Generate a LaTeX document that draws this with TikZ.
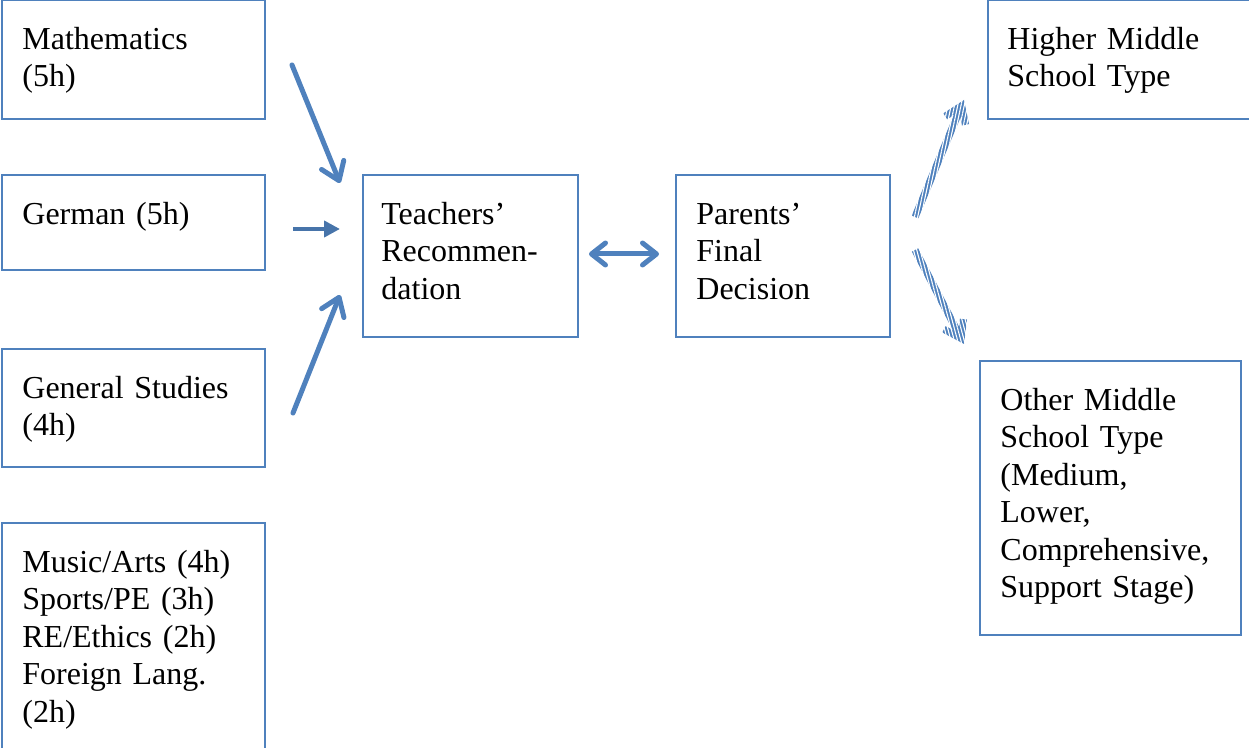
\documentclass[tikz,border=0pt]{standalone}
\usepackage{fontspec}
\setmainfont{Liberation Serif}
\usetikzlibrary{arrows.meta,calc,patterns.meta}
\definecolor{boxblue}{HTML}{4F81BD}
\definecolor{arrblue}{HTML}{4F81BD}
\begin{document}
\begin{tikzpicture}[x=0.5pt,y=-0.5pt,
  box/.style={draw=boxblue, line width=1pt, inner sep=0pt, anchor=north west},
  txt/.style={anchor=base west, inner sep=0pt, align=left, text width=125pt,
              font=\fontsize{16pt}{18.75pt}\selectfont},
  solidarrow/.style={draw=arrblue, line width=2.5pt, line cap=round,
              -{Straight Barb[length=8.5pt,width=12pt,round]}},
  smallarrow/.style={draw=arrblue!90!black, line width=2.3pt,
              -{Triangle[length=8pt,width=8pt]}},
  doublearrow/.style={draw=arrblue, line width=2.5pt, line cap=round,
              {Straight Barb[length=7pt,width=11pt,round]}-{Straight Barb[length=7pt,width=11pt,round]}},
  stripearrow/.style={draw=arrblue, line width=3.6pt,
              -{Straight Barb[length=8pt,width=11pt]}},
  whitestripes/.style={pattern={Lines[angle=#1,distance=1.6pt,line width=0.55pt]}, pattern color=white}
]
\useasboundingbox (0,0) rectangle (1249,748);
\clip (0,0) rectangle (1249,748);

% boxes
\node[box, minimum width=131.5pt, minimum height=59.5pt] (math) at (1,-1) {};
\node[box, minimum width=131.5pt, minimum height=47.5pt] (german) at (1,174) {};
\node[box, minimum width=131.5pt, minimum height=59pt] (general) at (1,348) {};
\node[box, minimum width=131.5pt, minimum height=125pt] (music) at (1,522) {};
\node[box, minimum width=107.5pt, minimum height=81pt] (teach) at (362,174) {};
\node[box, minimum width=107pt, minimum height=81pt] (parent) at (675,174) {};
\node[box, minimum width=150pt, minimum height=59.5pt] (higher) at (987,-1) {};
\node[box, minimum width=130.5pt, minimum height=137pt] (other) at (979,360) {};

% texts
\node[txt] (mathT) at ($(math.north west)+(21,50.5)$) {Mathematics\\(5h)};
\node[txt] (germanT) at ($(german.north west)+(21,50.5)$) {German (5h)};
\node[txt] (generalT) at ($(general.north west)+(21,50.5)$) {General Studies\\(4h)};
\node[txt] (musicT) at ($(music.north west)+(21,50.5)$) {Music/Arts (4h)\\Sports/PE (3h)\\RE/Ethics (2h)\\Foreign Lang.\\(2h)};
\node[txt] (teachT) at ($(teach.north west)+(19,50.5)$) {Teachers’\\Recommen-\\dation};
\node[txt] (parentT) at ($(parent.north west)+(21,50.5)$) {Parents’\\Final\\Decision};
\node[txt] (higherT) at ($(higher.north west)+(20,50.5)$) {Higher Middle\\School Type};
\node[txt] (otherT) at ($(other.north west)+(21,50.5)$) {Other Middle\\School Type\\(Medium,\\Lower,\\Comprehensive,\\Support Stage)};

% arrow end points
\coordinate (m1) at (292,65);  \coordinate (m2) at (340,183);
\coordinate (g1) at (293,229); \coordinate (g2) at (340,229);
\coordinate (s1) at (293,413); \coordinate (s2) at (340,295);
\coordinate (d1) at (589,254); \coordinate (d2) at (659,254);
\coordinate (h1) at (915,217); \coordinate (h2) at (964,100);
\coordinate (l1) at (915,250); \coordinate (l2) at (964,344);

\draw[solidarrow] (m1) -- (m2);
\draw[smallarrow] (g1) -- (g2);
\draw[solidarrow] (s1) -- (s2);
\draw[doublearrow] (d1) -- (d2);

\draw[stripearrow] (h1) -- (h2);
\fill[whitestripes=78] (900,85) rectangle (982,226);
\draw[stripearrow] (l1) -- (l2);
\fill[whitestripes=105] (900,242) rectangle (982,353);
\end{tikzpicture}
\end{document}
